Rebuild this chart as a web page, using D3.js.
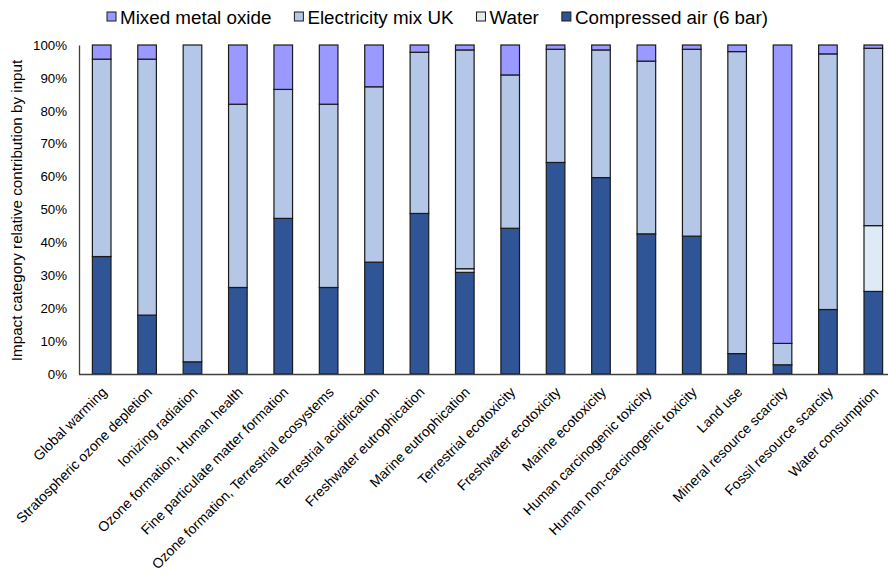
<!DOCTYPE html>
<html>
<head>
<meta charset="utf-8">
<script src="https://cdn.jsdelivr.net/npm/d3@7"></script>
<style>
  html, body { margin: 0; padding: 0; background: #fff; }
  svg { display: block; font-family: "Liberation Sans", Arial, sans-serif; }
</style>
</head>
<body>
<svg id="chart" width="888" height="575"></svg>
<script>
// Impact categories (ReCiPe midpoint)
const categories = [
  "Global warming", "Stratospheric ozone depletion", "Ionizing radiation",
  "Ozone formation, Human health", "Fine particulate matter formation",
  "Ozone formation, Terrestrial ecosystems", "Terrestrial acidification",
  "Freshwater eutrophication", "Marine eutrophication", "Terrestrial ecotoxicity",
  "Freshwater ecotoxicity", "Marine ecotoxicity", "Human carcinogenic toxicity",
  "Human non-carcinogenic toxicity", "Land use", "Mineral resource scarcity",
  "Fossil resource scarcity", "Water consumption"
];

// Relative contribution of each input, in percent
const compressedAir   = [35.7, 17.9, 3.7, 26.3, 47.3, 26.3, 34.0, 48.8, 30.9, 44.3, 64.3, 59.7, 42.6, 41.9, 6.2, 2.8, 19.6, 25.1];
const water           = [0, 0, 0, 0, 0, 0, 0, 0, 1.1, 0, 0, 0, 0, 0, 0, 0, 0, 20.0];
const electricityMix  = [60.0, 77.8, 96.3, 55.7, 39.2, 55.7, 53.3, 49.0, 66.5, 46.6, 34.4, 38.8, 52.5, 56.8, 91.8, 6.5, 77.7, 53.9];
const mixedMetalOxide = [4.3, 4.3, 0, 18.0, 13.5, 18.0, 12.7, 2.2, 1.5, 9.1, 1.3, 1.5, 4.9, 1.3, 2.0, 90.7, 2.7, 1.0];

const seriesNames = ["Compressed air (6 bar)", "Water", "Electricity mix UK", "Mixed metal oxide"];
const seriesValues = [compressedAir, water, electricityMix, mixedMetalOxide];
const seriesColors = ["#2F5597", "#DEEBF7", "#B4C7E7", "#9999FF"];

const yTicks = [0, 10, 20, 30, 40, 50, 60, 70, 80, 90, 100];

const svg = d3.select("#chart");
const plotLeft = 79, plotTop = 45, plotBottom = 374, plotRight = 896;

const rows = categories.map((c, i) => {
  const r = { category: c };
  seriesNames.forEach((s, k) => { r[s] = seriesValues[k][i]; });
  return r;
});
const stacked = d3.stack().keys(seriesNames)(rows);

const x = d3.scaleBand().domain(categories).range([plotLeft, plotRight])
  .paddingInner(0.59).paddingOuter(0.295);
const y = d3.scaleLinear().domain([0, 100]).range([plotBottom, plotTop]);
const color = d3.scaleOrdinal().domain(seriesNames).range(seriesColors);

// Bars
svg.append("g").selectAll("g").data(stacked).join("g")
  .attr("fill", d => color(d.key))
  .selectAll("rect").data(d => d.filter(p => p[1] - p[0] > 0)).join("rect")
  .attr("x", d => x(d.data.category))
  .attr("width", x.bandwidth())
  .attr("y", d => y(d[1]))
  .attr("height", d => y(d[0]) - y(d[1]))
  .attr("stroke", "#1a1a1a")
  .attr("stroke-width", 1.2);

// Y axis
const yAxis = svg.append("g").attr("transform", `translate(${plotLeft},0)`)
  .call(d3.axisLeft(y).tickValues(yTicks).tickSize(0).tickPadding(12).tickFormat(d => d + "%"));
yAxis.select(".domain").attr("stroke", "#404040").attr("stroke-width", 1.3);
yAxis.selectAll("text").attr("font-size", 13.3).attr("fill", "#000")
  .attr("font-family", "'Liberation Sans', Arial, sans-serif");

// X axis with rotated category labels
const xAxis = svg.append("g").attr("transform", `translate(0,${plotBottom})`)
  .call(d3.axisBottom(x).tickSize(0).tickPadding(0));
xAxis.select(".domain").attr("stroke", "#404040").attr("stroke-width", 1.3)
  .attr("d", `M${plotLeft},0.5H888`);
xAxis.selectAll("text")
  .attr("font-size", 14).attr("fill", "#000")
  .attr("font-family", "'Liberation Sans', Arial, sans-serif")
  .attr("text-anchor", "end")
  .attr("dy", "0")
  .attr("y", 0)
  .attr("transform", "translate(6,19) rotate(-45)");

// Y axis title
svg.append("text")
  .attr("transform", `translate(22,${(plotTop + plotBottom) / 2 + 1}) rotate(-90)`)
  .attr("text-anchor", "middle")
  .attr("font-size", 15.2)
  .attr("fill", "#000")
  .text("Impact category relative contribution by input");

// Legend (top series first)
const legend = svg.append("g");
const legendOrder = seriesNames.slice().reverse();
let lx = 0;
legendOrder.forEach(name => {
  const g = legend.append("g");
  g.append("rect").attr("x", 0).attr("y", -5).attr("width", 9).attr("height", 9)
    .attr("fill", color(name)).attr("stroke", "#1a1a1a").attr("stroke-width", 1);
  const t = g.append("text").attr("x", 13).attr("y", 0).attr("dy", "0.35em")
    .attr("font-size", 18.8).attr("fill", "#000").text(name);
  const w = 13 + t.node().getComputedTextLength();
  g.attr("transform", `translate(${lx},17)`);
  lx += w + 23;
});
const totalW = lx - 23;
legend.attr("transform", `translate(${437.5 - totalW / 2},0)`);
</script>
</body>
</html>
